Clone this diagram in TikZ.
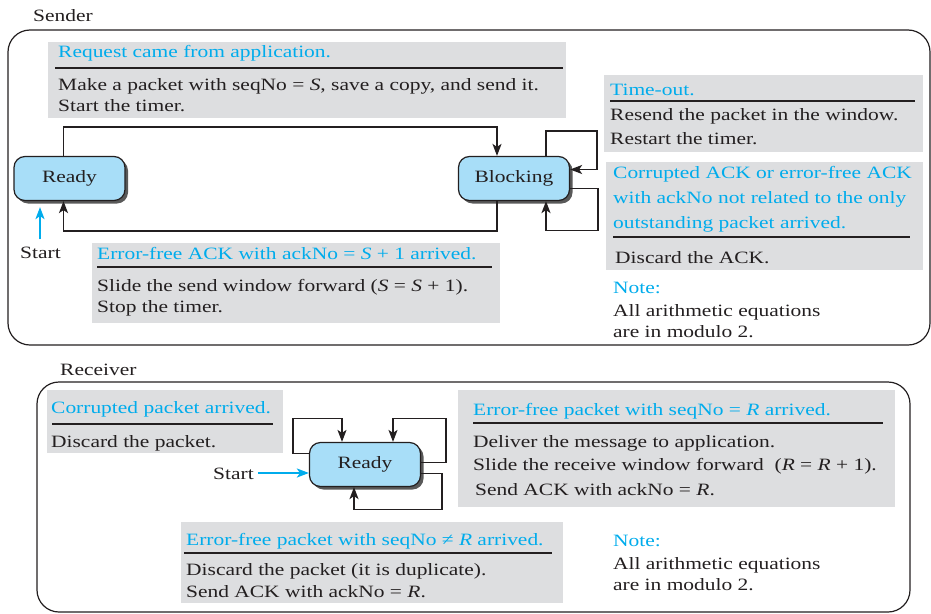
\documentclass[tikz,border=0pt]{standalone}
\usepackage{fontspec}
\setmainfont[FakeStretch=1.24]{Liberation Serif}
\usepackage{tikz}
\usetikzlibrary{arrows.meta}
\usetikzlibrary{shadows}

\definecolor{procCyan}{RGB}{0,172,236}
\definecolor{boxGrey}{RGB}{221,222,224}
\definecolor{stateBlue}{RGB}{168,222,248}
\definecolor{inkBlack}{RGB}{35,31,32}

\begin{document}
\begin{tikzpicture}[
		x=1pt, y=-1pt,
		>={Stealth[length=12pt, width=9pt, inset=3pt]},
		font=\fontsize{17.3}{21}\selectfont,
		frame line/.style={line width=1.2pt, draw=inkBlack, rounded corners=22pt},
		grey box/.style={fill=boxGrey, inner sep=0pt, anchor=north west},
		title text/.style={anchor=base west, inner sep=0pt, text=procCyan},
		body text/.style={anchor=base west, inner sep=0pt, text=inkBlack},
		rule line/.style={line width=1.3pt, draw=inkBlack},
		state node/.style={
			draw=inkBlack,
			line width=1.2pt,
			rounded corners=11pt,
			fill=stateBlue,
			text=inkBlack,
			minimum width=111pt,
			minimum height=44pt,
			drop shadow={shadow xshift=3pt, shadow yshift=-3pt, fill=black!65, opacity=1}
		},
		trans/.style={->, line width=1.6pt, draw=inkBlack},
		start arrow/.style={->, line width=2pt, draw=procCyan}
		]
		\useasboundingbox (0,0) rectangle (931,613);

		% sender
		\node[body text] (sLabel) at (33,21) {Sender};
		\draw[frame line] (8,30) rectangle (930,345);

		\node[grey box, minimum width=518pt, minimum height=76pt] (sReqBox) at (48,42) {};
		\node[title text] (sReqT) at (58,57) {Request came from application.};
		\draw[rule line] (55,68) -- (563,68);
		\node[body text] (sReqA) at (58,90) {Make a packet with seqNo = \textit{S}, save a copy, and send it.};
		\node[body text] (sReqB) at (58,111) {Start the timer.};

		\node[grey box, minimum width=319pt, minimum height=77pt] (sTimeBox) at (604,75) {};
		\node[title text] (sTimeT) at (610,95) {Time-out.};
		\draw[rule line] (610,101) -- (915,101);
		\node[body text] (sTimeA) at (610,120) {Resend the packet in the window.};
		\node[body text] (sTimeB) at (610,144) {Restart the timer.};

		\node[grey box, minimum width=317pt, minimum height=108pt] (sCorrBox) at (606,162) {};
		\node[title text] (sCorrT1) at (613,178) {Corrupted ACK or error-free ACK};
		\node[title text] (sCorrT2) at (613,203) {with ackNo not related to the only};
		\node[title text] (sCorrT3) at (613,228) {outstanding packet arrived.};
		\draw[rule line] (613,237) -- (910,237);
		\node[body text] (sCorrA) at (615,263) {Discard the ACK.};

		\node[title text] (sNoteT) at (613,293) {Note:};
		\node[body text] (sNoteA) at (613,316) {All arithmetic equations};
		\node[body text] (sNoteB) at (613,337) {are in modulo 2.};

		\node[grey box, minimum width=408pt, minimum height=80pt] (sAckBox) at (92,243) {};
		\node[title text] (sAckT) at (97,259) {Error-free ACK with ackNo = \textit{S} + 1 arrived.};
		\draw[rule line] (97,267) -- (492,267);
		\node[body text] (sAckA) at (97,291) {Slide the send window forward (\textit{S} = \textit{S} + 1).};
		\node[body text] (sAckB) at (97,312) {Stop the timer.};

		\node[state node] (sReady) at (69.5,178.5) {Ready};
		\node[state node] (sBlock) at (514,178.5) {Blocking};
		\node[body text] (sStart) at (20,258) {Start};

		\draw[start arrow] ([xshift=20pt, yshift=7pt]sStart.north west) -- ([xshift=-29.5pt, yshift=-6pt]sReady.south);
		\draw[trans] ([xshift=-6pt]sReady.north) -- ++(0,-29) -| ([xshift=-17pt]sBlock.north);
		\draw[trans] ([xshift=-17pt]sBlock.south) -- ++(0,30) -| ([xshift=-6pt]sReady.south);
		\draw[trans] ([xshift=32pt]sBlock.north) -- ++(0,-25) -- ++(51,0) |- ([yshift=9pt]sBlock.east);
		\draw[trans] ([yshift=-10pt]sBlock.east) -- ++(28,0) -- ++(0,42) -| ([xshift=32pt]sBlock.south);

		% receiver
		\node[body text] (rLabel) at (60,375) {Receiver};
		\draw[frame line] (37,382) rectangle (910,612);

		\node[grey box, minimum width=236pt, minimum height=63pt] (rCorrBox) at (47,390) {};
		\node[title text] (rCorrT) at (51,413) {Corrupted packet arrived.};
		\draw[rule line] (52,424) -- (273,424);
		\node[body text] (rCorrA) at (51,447) {Discard the packet.};

		\node[grey box, minimum width=437pt, minimum height=117pt] (rOkBox) at (458,390) {};
		\node[title text] (rOkT) at (473,415) {Error-free packet with seqNo = \textit{R} arrived.};
		\draw[rule line] (473,423) -- (883,423);
		\node[body text] (rOkA) at (473,447) {Deliver the message to application.};
		\node[body text] (rOkB) at (473,470) {Slide the receive window forward~~(\textit{R} = \textit{R} + 1).};
		\node[body text] (rOkC) at (475,495) {Send ACK with ackNo = \textit{R}.};

		\node[grey box, minimum width=382pt, minimum height=81pt] (rDupBox) at (181,522) {};
		\node[title text] (rDupT) at (186,545) {Error-free packet with seqNo ≠ \textit{R} arrived.};
		\draw[rule line] (184,553) -- (552,553);
		\node[body text] (rDupA) at (186,575) {Discard the packet (it is duplicate).};
		\node[body text] (rDupB) at (186,597) {Send ACK with ackNo = \textit{R}.};

		\node[title text] (rNoteT) at (613,546) {Note:};
		\node[body text] (rNoteA) at (613,569) {All arithmetic equations};
		\node[body text] (rNoteB) at (613,590) {are in modulo 2.};

		\node[state node] (rReady) at (365,464.5) {Ready};
		\node[body text] (rStart) at (213,479) {Start};

		\draw[start arrow] ([xshift=4pt]rStart.base east) ++(0,-6) -- ([yshift=-8.5pt]rReady.west);
		\draw[trans] ([yshift=11pt]rReady.west) -- ++(-16,0) -- ++(0,-35) -| ([xshift=-23pt]rReady.north);
		\draw[trans] ([yshift=2pt]rReady.east) -- ++(25,0) -- ++(0,-44) -| ([xshift=28pt]rReady.north);
		\draw[trans] ([yshift=-9pt]rReady.east) -- ++(21,0) -- ++(0,36) -| ([xshift=-11pt]rReady.south);
	\end{tikzpicture}
\end{document}
